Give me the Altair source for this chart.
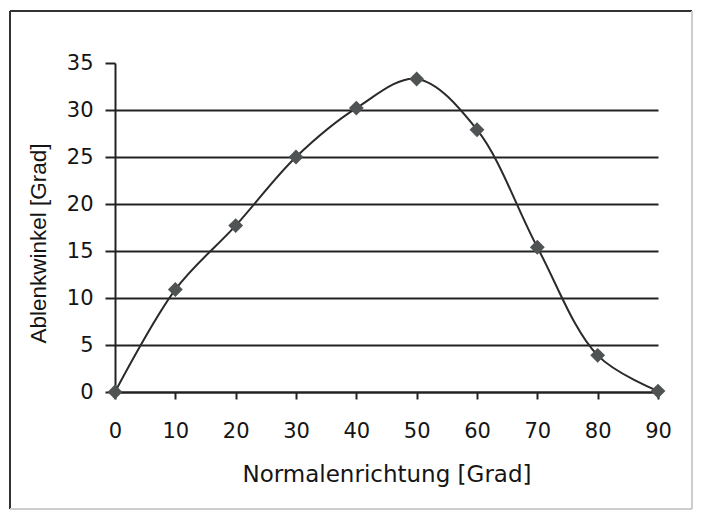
import altair as alt
import pandas as pd

normalenrichtung = [0, 10, 20, 30, 40, 50, 60, 70, 80, 90]
ablenkwinkel = [0.0, 10.9, 17.7, 25.0, 30.2, 33.3, 27.9, 15.4, 3.9, 0.1]

x_ticks = list(range(0, 95, 5))
y_ticks = [0, 5, 10, 15, 20, 25, 30, 35]

df = pd.DataFrame({"x": normalenrichtung, "y": ablenkwinkel})

W, H = 543, 329
PL, PT, PR, PB = 107, 55, 36, 120
FONT = "DejaVu Sans"
FONT_Y = "Liberation Sans"
TXT = "#151515"

x_enc = alt.X(
    "x:Q",
    scale=alt.Scale(domain=[0, 90], nice=False, zero=False),
    axis=alt.Axis(
        values=x_ticks,
        labelExpr="datum.value % 10 == 0 ? datum.label : ''",
        title="Normalenrichtung [Grad]",
        grid=False,
        tickSize=7,
        tickWidth=2,
        tickColor="#222",
        domainColor="#222",
        domainWidth=2,
        labelPadding=21,
        labelFontSize=21,
        labelFlush=False,
        labelColor=TXT,
        labelFont=FONT,
        titleFont=FONT,
        titleFontSize=23,
        titleFontWeight="normal",
        titleColor=TXT,
        titlePadding=22,
    ),
)
y_enc = alt.Y(
    "y:Q",
    scale=alt.Scale(domain=[0, 35], nice=False),
    axis=alt.Axis(
        values=y_ticks,
        title="Ablenkwinkel [Grad]",
        grid=True,
        gridColor="#222",
        gridWidth=2,
        gridOpacity={"expr": "datum.value == 35 ? 0 : 1"},
        tickSize=10,
        tickWidth=2,
        tickColor="#222",
        domainColor="#222",
        domainWidth=2,
        labelPadding=12,
        labelFontSize=21,
        labelFlush=False,
        labelColor=TXT,
        labelFont=FONT,
        titleFont=FONT_Y,
        titleFontSize=22.5,
        titleFontWeight="normal",
        titleColor=TXT,
        titlePadding=16,
        titleY=180,
    ),
)

base = alt.Chart(df)
line = base.mark_line(
    interpolate="catmull-rom", color="#2a2a2a", strokeWidth=2
).encode(x=x_enc, y=y_enc)
points = base.mark_point(
    shape="diamond", filled=True, size=220, color="#4f5353", opacity=1
).encode(x="x:Q", y="y:Q")

RX = W + PR - 2
BY = H + PB - 3
border_left = alt.Chart(df).mark_rule(color="#333", strokeWidth=1.5, clip=False).encode(
    x=alt.value(-PL + 2), y=alt.value(-PT + 3), y2=alt.value(BY)
)
border_top = alt.Chart(df).mark_rule(color="#333", strokeWidth=1.5, clip=False).encode(
    x=alt.value(-PL + 2), x2=alt.value(RX), y=alt.value(-PT + 3)
)
border_right = alt.Chart(df).mark_rule(color="#ccc", strokeWidth=1, clip=False).encode(
    x=alt.value(RX), y=alt.value(-PT + 3), y2=alt.value(BY)
)
border_bottom = alt.Chart(df).mark_rule(color="#ccc", strokeWidth=1, clip=False).encode(
    x=alt.value(-PL + 2), x2=alt.value(RX), y=alt.value(BY)
)

chart = (
    alt.layer(line, points, border_left, border_top, border_right, border_bottom)
    .properties(
        width=W,
        height=H,
        padding={"left": PL, "top": PT, "right": PR, "bottom": PB},
        autosize=alt.AutoSizeParams(type="none"),
        background="white",
    )
    .configure_view(stroke=None)
)

chart.save("out.html", embed_options={"renderer": "svg", "actions": False})
